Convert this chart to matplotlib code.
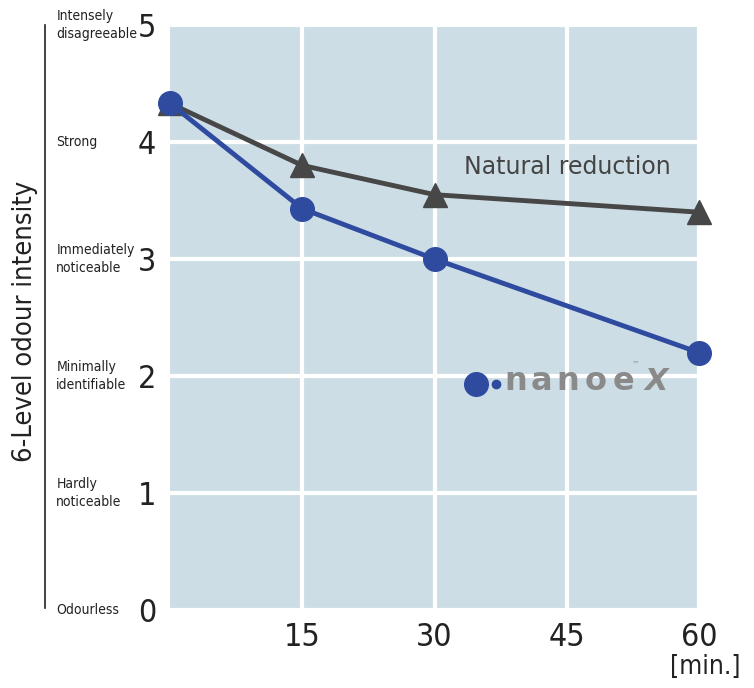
import matplotlib.pyplot as plt
from matplotlib.lines import Line2D

# data
minutes = [0, 15, 30, 60]
natural = [4.33, 3.80, 3.55, 3.40]
nanoe = [4.33, 3.43, 3.00, 2.20]
level_names = ['Odourless', 'Hardly\nnoticeable', 'Minimally\nidentifiable',
               'Immediately\nnoticeable', 'Strong', 'Intensely\ndisagreeable']
y_ticks = [0, 1, 2, 3, 4, 5]
x_ticks = [15, 30, 45, 60]

plt.rcParams['font.family'] = ['DejaVu Sans']
plt.rcParams['font.stretch'] = 'condensed'

blue = '#2f4ba0'
grey = '#474747'
ink = '#222222'

fig = plt.figure(figsize=(7.54, 6.88), dpi=100)
ax = fig.add_axes([170 / 754, 78 / 688, 529 / 754, 585 / 688])
ax.set_facecolor('#cddde5')
for s in ax.spines.values():
    s.set_visible(False)

ax.set_xlim(0, 60)
ax.set_ylim(0, 5)
ax.set_xticks(x_ticks)
ax.set_yticks(y_ticks)
ax.set_xticklabels([str(t) for t in x_ticks])
ax.set_yticklabels([str(t) for t in y_ticks])
ax.tick_params(length=0, labelsize=23, colors=ink)
ax.tick_params(axis='x', pad=9)
ax.tick_params(axis='y', pad=10)
ax.grid(True, color='white', linewidth=3)
ax.set_axisbelow(True)

ax.plot(minutes, natural, color=grey, linewidth=3.5, marker='^', markersize=17,
        clip_on=False, zorder=3)
ax.plot(minutes, nanoe, color=blue, linewidth=3.5, marker='o', markersize=17,
        clip_on=False, zorder=4)

ax.text(45.1, 3.79, 'Natural reduction', fontsize=17, color='#444444',
        ha='center', va='center', stretch='normal')

# nanoe X logo
ax.plot([34.7], [1.93], marker='o', markersize=17, color=blue, clip_on=False)
ax.plot([36.98], [1.93], marker='o', markersize=6, color=blue, clip_on=False)
for lx, ch in zip([39.24, 42.08, 45.14, 48.32, 51.38], 'nanoe'):
    ax.text(lx, 1.95, ch, fontsize=23, fontweight='bold', color='#8a8a8a',
            ha='center', va='center', stretch='normal')
ax.text(55.1, 1.95, 'X', fontsize=22, fontweight='bold', color='#8a8a8a',
        ha='center', va='center', fontstyle='italic', stretch='normal')
ax.text(52.85, 2.1, '™', fontsize=6, color='#8a8a8a', ha='center', va='center')

# level names on the left
for y, name in zip(y_ticks, level_names):
    ax.text(-0.215, y, name, transform=ax.get_yaxis_transform(),
            fontsize=10, ha='left', va='center', color=ink, linespacing=1.4)

fig.add_artist(Line2D([45 / 754, 45 / 754], [80 / 688, 663 / 688],
                      color=ink, linewidth=1.2))
fig.text(25 / 754, (688 - 321) / 688, '6-Level odour intensity', rotation=90,
         fontsize=19.5, ha='center', va='center', color=ink)
fig.text(705 / 754, (688 - 667) / 688, '[min.]', fontsize=19, ha='center',
         va='center', color=ink)

fig.savefig('out.png', dpi=100)
